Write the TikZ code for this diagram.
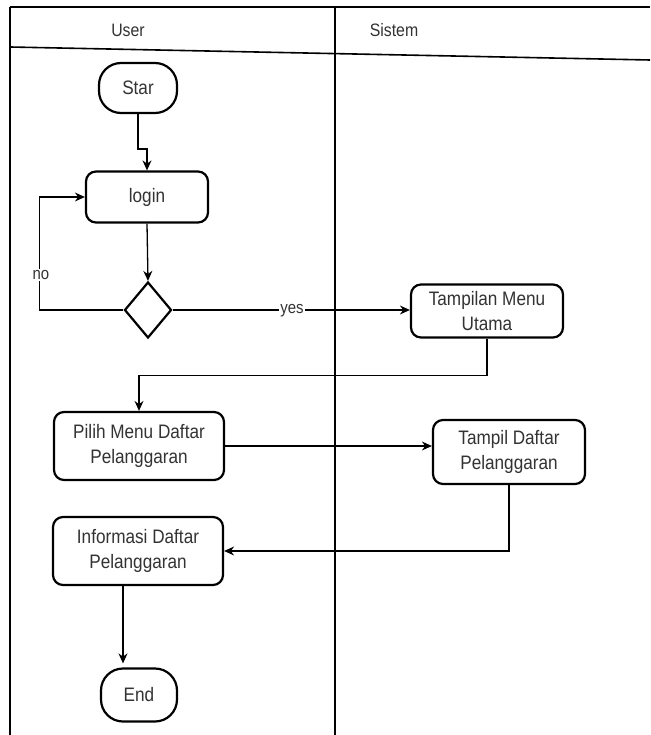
\documentclass[tikz,border=0pt]{standalone}
\usepackage{fontspec}
\setmainfont{Liberation Sans}
\newfontfamily\condfont[FakeStretch=0.88]{Liberation Sans}
\usetikzlibrary{shapes.geometric,arrows.meta}
\definecolor{txt}{HTML}{333333}
\begin{document}
\begin{tikzpicture}[x=1pt,y=-1pt,
  act/.style={draw,line width=2.2pt,rounded corners=10pt,align=center,inner sep=0pt,
    font=\condfont\fontsize{19.5}{25}\selectfont,text=txt},
  term/.style={draw,line width=2.2pt,rounded corners=22pt,align=center,inner sep=0pt,
    font=\condfont\fontsize{19.5}{25}\selectfont,text=txt},
  decision/.style={draw,line width=2.2pt,diamond,inner sep=0pt},
  conn/.style={line width=1.3pt,-{Stealth[length=10pt,width=9pt]}},
  lane/.style={line width=1.3pt},
  lbl/.style={fill=white,inner sep=1pt,font=\condfont\fontsize{17}{19}\selectfont,text=txt},
  hdr/.style={font=\condfont\fontsize{18}{20}\selectfont,text=txt}]
\useasboundingbox (0,0) rectangle (650,735);
\fill[white] (0,0) rectangle (650,735);
% swimlane frame
\draw[lane] (10,7) -- (650,7);
\draw[lane] (10,7) -- (10,735);
\draw[lane] (335,7) -- (335,735);
\draw[line width=1.6pt] (10,47) -- (650,60);
\node[hdr] (huser) at (128,30) {User};
\node[hdr] (hsys) at (394,30) {Sistem};
% nodes
\node[term,minimum width=78pt,minimum height=50pt] (start) at (138,88) {Star};
\node[act,minimum width=122pt,minimum height=51pt] (login) at (147,197) {login};
\node[decision,minimum width=47pt,minimum height=56pt] (dec) at (148,310) {};
\node[act,minimum width=152pt,minimum height=53pt] (menu) at (487,311) {Tampilan Menu\\Utama};
\node[act,minimum width=170pt,minimum height=68pt] (pilih) at (139,446) {Pilih Menu Daftar\\Pelanggaran};
\node[act,minimum width=152pt,minimum height=64pt] (tampil) at (509,452) {Tampil Daftar\\Pelanggaran};
\node[act,minimum width=170pt,minimum height=68pt] (info) at (138,551) {Informasi Daftar\\Pelanggaran};
\node[term,minimum width=76pt,minimum height=53pt] (end) at (139,695) {End};
% connectors
\draw[conn] (start.south) -- ++(0,35) -| (login.north);
\draw[conn] (login.south) -- (dec.north);
\draw[conn] (dec.west) -- ++(-84,0) coordinate (nocorner) |- (login.west);
\node[lbl] (nolbl) at (41,275) {no};
\draw[conn] (dec.east) -- (dec.east -| menu.west);
\node[lbl] (yeslbl) at (292,311) {yes};
\draw[conn] (menu.south) -- ++(0,37) -| (pilih.north);
\draw[conn] (pilih.east) -- (pilih.east -| tampil.west);
\draw[conn] (tampil.south) |- (info.east);
\draw[conn] ([xshift=-15pt]info.south) -- ([xshift=-15pt,yshift=4pt]info.south |- end.north);
\end{tikzpicture}
\end{document}
